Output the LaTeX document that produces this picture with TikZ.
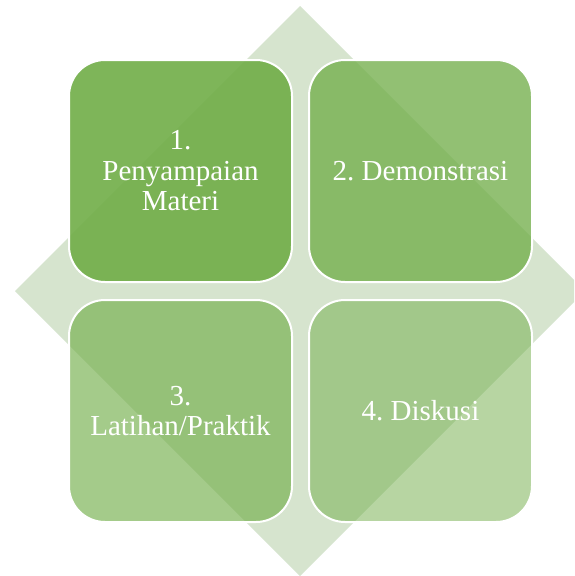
\documentclass[tikz,border=0pt]{standalone}
\usepackage{fontspec}
\setmainfont{Liberation Serif}
\frenchspacing
\definecolor{leaf}{HTML}{70AD47}
\definecolor{pale}{HTML}{D6E4CE}
\begin{document}
\begin{tikzpicture}[x=1pt,y=-1pt,
  tile/.style={rectangle, rounded corners=36pt, draw=white, draw opacity=1,
    line width=2pt, fill=leaf, text=white, text opacity=1,
    minimum width=223pt, minimum height=222pt, align=center, inner sep=0pt,
    font=\fontsize{29}{30.5}\selectfont}]
\useasboundingbox (0,0) rectangle (574,576);
\fill[white] (0,0) rectangle (574,576);
% background diamond
\begin{scope}
  \clip (0,0) rectangle (574,576);
  \fill[pale] (300,6) -- (585,291) -- (300,576) -- (15,291) -- cycle;
\end{scope}
% four tiles
\node[tile, fill opacity=0.9]  (n1) at (180.5,171) {1.\\Penyampaian\\Materi};
\node[tile, fill opacity=0.76] (n2) at (420.5,171) {2. Demonstrasi};
\node[tile, fill opacity=0.63] (n3) at (180.5,411) {3.\\Latihan/Praktik};
\node[tile, fill opacity=0.5]  (n4) at (420.5,411) {4. Diskusi};
\end{tikzpicture}
\end{document}
